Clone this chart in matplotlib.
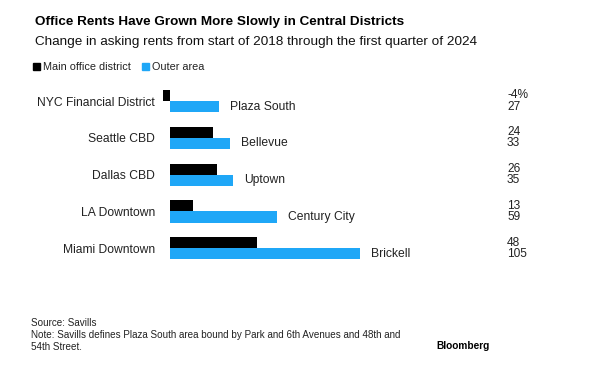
import matplotlib.pyplot as plt
from matplotlib.transforms import blended_transform_factory
from matplotlib.patches import Rectangle

plt.rcParams['font.family'] = ['Liberation Sans', 'DejaVu Sans']

# data
main_districts = ['NYC Financial District', 'Seattle CBD', 'Dallas CBD', 'LA Downtown', 'Miami Downtown']
outer_areas = ['Plaza South', 'Bellevue', 'Uptown', 'Century City', 'Brickell']
main_change = [-4, 24, 26, 13, 48]
outer_change = [27, 33, 35, 59, 105]
main_labels = ['-4%', '24', '26', '13', '48']
outer_labels = ['27', '33', '35', '59', '105']

black = '#000000'
blue = '#1fa7f7'
grey = '#222222'

fig = plt.figure(figsize=(5.93, 3.83), dpi=100)
ax = fig.add_axes([0.268, 0.3037, 0.5987, 0.4806])

ys = list(range(len(main_districts)))
h = 0.3
ax.barh([y - h for y in ys], main_change, height=h, align='edge', color=black)
ax.barh(ys, outer_change, height=h, align='edge', color=blue)

ax.set_xlim(-6, 190)
ax.set_ylim(4.5, -0.5)
ax.set_yticks(ys)
ax.set_yticklabels(main_districts, fontsize=8.7, color=grey)
ax.tick_params(axis='y', length=0, pad=3)
ax.set_xticks([])
for s in ax.spines.values():
    s.set_visible(False)

for y, v, name in zip(ys, outer_change, outer_areas):
    ax.annotate(name, (v, y + h / 2), xytext=(8, 0), textcoords='offset points',
                ha='left', va='center', fontsize=8.7, color=grey)

tr = blended_transform_factory(fig.transFigure, ax.transData)
for y, a, b in zip(ys, main_labels, outer_labels):
    ax.text(507 / 593, y - h / 2, a, transform=tr, ha='left', va='center', fontsize=8.6, color=grey)
    ax.text(507 / 593, y + h / 2, b, transform=tr, ha='left', va='center', fontsize=8.6, color=grey)

# header
fig.text(35 / 593, 1 - 22 / 383, 'Office Rents Have Grown More Slowly in Central Districts',
         fontsize=9.7, fontweight='bold', va='center', ha='left')
fig.text(35 / 593, 1 - 41.5 / 383, 'Change in asking rents from start of 2018 through the first quarter of 2024',
         fontsize=9.7, va='center', ha='left', color='#111111')

# legend
for x0, c, lab in [(33, black, 'Main office district'), (142, blue, 'Outer area')]:
    fig.patches.append(Rectangle((x0 / 593, 1 - 70 / 383), 7 / 593, 7 / 383,
                                 transform=fig.transFigure, color=c))
    fig.text((x0 + 10) / 593, 1 - 66.5 / 383, lab, fontsize=7.8, va='center', ha='left', color=grey)

# footer
fig.text(31 / 593, 1 - 322.5 / 383, 'Source: Savills', fontsize=7.1, va='center', color=grey)
fig.text(31 / 593, 1 - 334.5 / 383,
         'Note: Savills defines Plaza South area bound by Park and 6th Avenues and 48th and',
         fontsize=7.1, va='center', color=grey)
fig.text(31 / 593, 1 - 346.5 / 383, '54th Street.', fontsize=7.1, va='center', color=grey)
fig.text(490 / 593, 1 - 346 / 383, 'Bloomberg', fontsize=7.3, fontweight='bold', va='center', ha='right')

fig.savefig('out.png', dpi=100)
